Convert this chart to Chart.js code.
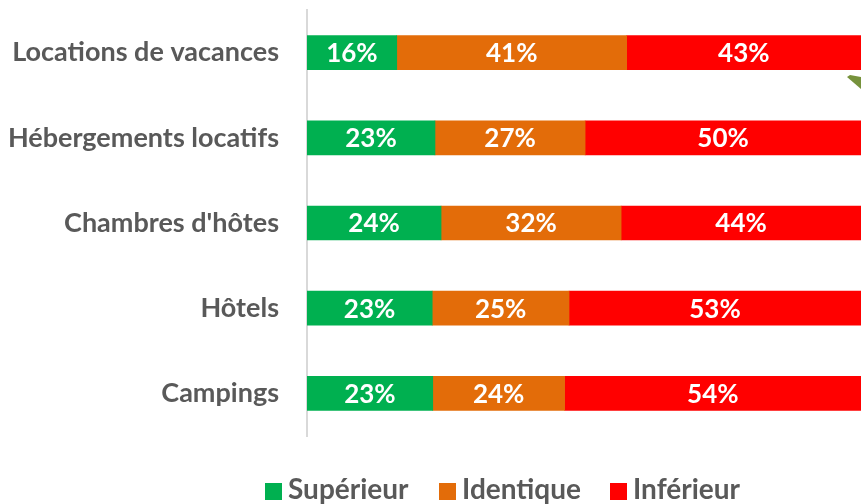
<!DOCTYPE html>
<html>
<head>
<meta charset="utf-8">
<style>
  html, body { margin: 0; padding: 0; background: #fff; }
  #wrap { width: 861px; height: 504px; }
</style>
<script src="https://cdn.jsdelivr.net/npm/chart.js@4"></script>
</head>
<body>
<div id="wrap"><canvas id="chart"></canvas></div>
<script>
const categories = ['Locations de vacances', 'Hébergements locatifs', "Chambres d'hôtes", 'Hôtels', 'Campings'];
const superieur = [16.2, 23.1, 24.2, 22.6, 22.7];
const identique = [41.5, 27.1, 32.5, 24.7, 23.8];
const inferieur = [42.3, 49.8, 43.3, 52.7, 53.5];
const superieurLabels = ['16%', '23%', '24%', '23%', '23%'];
const identiqueLabels = ['41%', '27%', '32%', '25%', '24%'];
const inferieurLabels = ['43%', '50%', '44%', '53%', '54%'];

const fontName = 'Lato';

// white percentages in the middle of each bar
const barLabels = {
    id: 'barLabels',
    afterDatasetsDraw(chart) {
        const c = chart.ctx;
        c.save();
        c.fillStyle = '#fff';
        c.font = 'bold 26px ' + fontName;
        c.textAlign = 'center';
        c.textBaseline = 'middle';
        chart.data.datasets.forEach((ds, i) => {
            chart.getDatasetMeta(i).data.forEach((bar, j) => {
                const p = bar.getCenterPoint();
                c.fillText(ds.valueLabels[j], p.x, p.y + 1);
            });
        });
        c.restore();
    }
};

// legend drawn by hand, the built-in one can't close the box/text gap
const legendStarts = [265, 439, 610];
const slideLegend = {
    id: 'slideLegend',
    afterDraw(chart) {
        const c = chart.ctx;
        c.save();
        c.font = 'bold 28px ' + fontName;
        c.textAlign = 'left';
        c.textBaseline = 'middle';
        chart.data.datasets.forEach((ds, i) => {
            c.fillStyle = ds.backgroundColor;
            c.fillRect(legendStarts[i], 483, 17, 17);
            c.fillStyle = '#595959';
            c.fillText(ds.label, legendStarts[i] + 23, 490);
        });
        c.restore();
    }
};

// stray olive arrow tip at the right edge of the slide
const arrowTip = {
    id: 'arrowTip',
    afterDraw(chart) {
        const c = chart.ctx;
        c.save();
        c.fillStyle = '#76923c';
        c.beginPath();
        c.moveTo(847, 77);
        c.lineTo(850, 75);
        c.lineTo(861, 77);
        c.lineTo(861, 89);
        c.closePath();
        c.fill();
        c.restore();
    }
};

new Chart(document.getElementById('chart'), {
    type: 'bar',
    data: {
        labels: categories,
        datasets: [
            { label: 'Supérieur', data: superieur, valueLabels: superieurLabels, backgroundColor: '#00b050' },
            { label: 'Identique', data: identique, valueLabels: identiqueLabels, backgroundColor: '#e36c09' },
            { label: 'Inférieur', data: inferieur, valueLabels: inferieurLabels, backgroundColor: '#ff0000' }
        ]
    },
    options: {
        indexAxis: 'y',
        responsive: true,
        maintainAspectRatio: false,
        animation: false,
        layout: { padding: { top: 10, right: 0, bottom: 0, left: 0 } },
        datasets: { bar: { barThickness: 34, borderWidth: 0 } },
        scales: {
            x: {
                stacked: true,
                min: 0,
                max: 100,
                grid: { display: false },
                border: { display: false },
                ticks: { display: false },
                afterFit(scale) { scale.height = 68; }
            },
            y: {
                stacked: true,
                grid: { display: false },
                border: { color: '#d9d9d9', width: 2 },
                ticks: {
                    color: '#595959',
                    padding: 20,
                    font: { family: fontName, size: 27, weight: 'bold' }
                },
                afterFit(scale) {
                    scale.width = 307;
                    scale.paddingTop = 0;
                    scale.paddingBottom = 0;
                }
            }
        },
        plugins: {
            tooltip: { enabled: false },
            legend: { display: false }
        }
    },
    plugins: [barLabels, slideLegend, arrowTip]
});
</script>
</body>
</html>
